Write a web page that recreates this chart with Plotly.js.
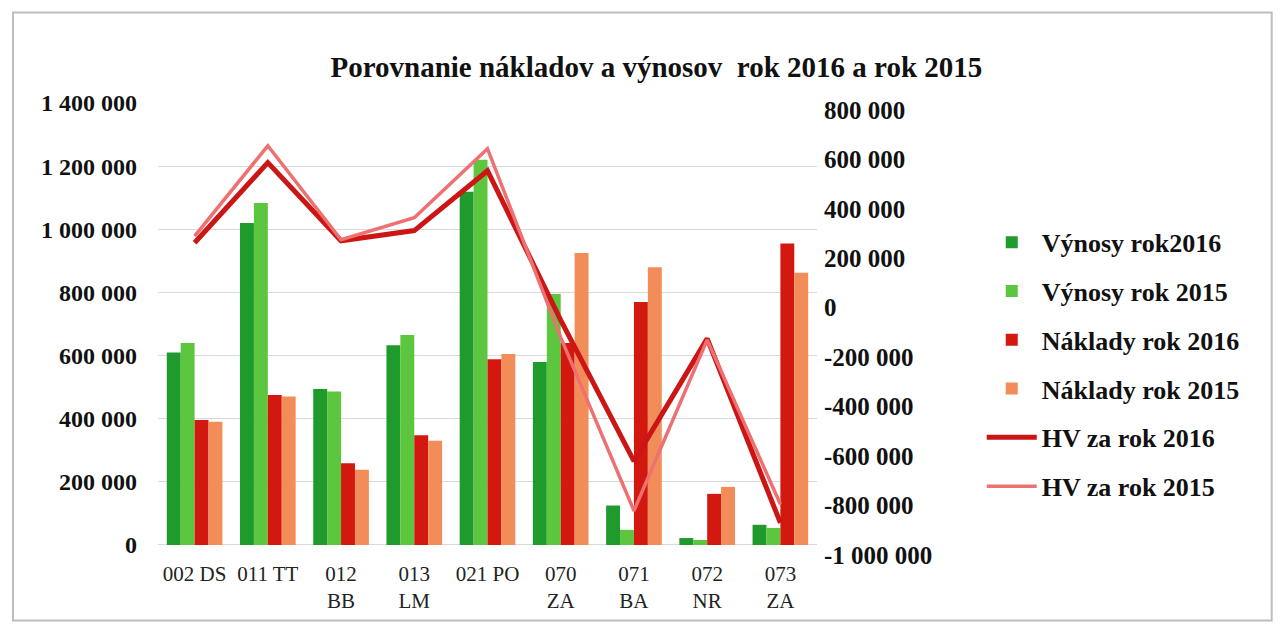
<!DOCTYPE html>
<html>
<head>
<meta charset="utf-8">
<script src="https://cdn.plot.ly/plotly-3.0.1.min.js"></script>
<style>html,body{margin:0;padding:0;background:#fff;}#chart{width:1287px;height:639px;}</style>
</head>
<body>
<div id="chart"></div>
<script>
var categories = ['002 DS', '011 TT', '012<br>BB', '013<br>LM', '021 PO', '070<br>ZA', '071<br>BA', '072<br>NR', '073<br>ZA'];
var vynosy2016 = [610000, 1020000, 494000, 633000, 1119000, 580000, 125000, 22000, 64000];
var vynosy2015 = [640000, 1083000, 486000, 665000, 1220000, 795000, 48000, 16000, 54000];
var naklady2016 = [396000, 475000, 259000, 348000, 588000, 640000, 770000, 162000, 955000];
var naklady2015 = [390000, 470000, 238000, 330000, 605000, 925000, 880000, 184000, 862000];
var hv2016 = [263000, 587000, 271000, 312000, 554000, -50000, -620000, -125000, -870000];
var hv2015 = [290000, 655000, 275000, 364000, 643000, -120000, -821000, -130000, -795000];
var leftTicks = [0, 200000, 400000, 600000, 800000, 1000000, 1200000, 1400000];
var leftLabels = ['0', '200 000', '400 000', '600 000', '800 000', '1 000 000', '1 200 000', '1 400 000'];
var rightTicks = [-1000000, -800000, -600000, -400000, -200000, 0, 200000, 400000, 600000, 800000];
var rightLabels = ['-1 000 000', '-800 000', '-600 000', '-400 000', '-200 000', '0', '200 000', '400 000', '600 000', '800 000'];
var names = ['Výnosy rok2016', 'Výnosy rok 2015', 'Náklady rok 2016', 'Náklady rok 2015', 'HV za rok 2016', 'HV za rok 2015'];

var serif = 'Liberation Serif, Times New Roman, serif';

var traces = [
  {type: 'bar', x: categories, y: vynosy2016, name: names[0], marker: {color: '#1f9a2c'}, legendgroup: 'a'},
  {type: 'bar', x: categories, y: vynosy2015, name: names[1], marker: {color: '#5dc63f'}, legendgroup: 'b'},
  {type: 'bar', x: categories, y: naklady2016, name: names[2], marker: {color: '#d3180f'}, legendgroup: 'c'},
  {type: 'bar', x: categories, y: naklady2015, name: names[3], marker: {color: '#f28c58'}, legendgroup: 'd'},
  {type: 'scatter', mode: 'lines', x: categories, y: hv2016, name: names[4], yaxis: 'y2', line: {color: '#cc1515', width: 5}, legendgroup: 'e'},
  {type: 'scatter', mode: 'lines', x: categories, y: hv2015, name: names[5], yaxis: 'y2', line: {color: '#ee7070', width: 3.5}, legendgroup: 'f'}
];

var layout = {
  width: 1287, height: 639,
  paper_bgcolor: '#ffffff', plot_bgcolor: '#ffffff',
  margin: {l: 158, r: 470, t: 103, b: 84},
  barmode: 'group', bargap: 0.24, bargroupgap: 0,
  title: {text: 'Porovnanie nákladov a výnosov  rok 2016 a rok 2015', x: 0.51, xref: 'container', y: 0.895, yref: 'container', yanchor: 'middle',
          font: {family: serif, size: 29, color: '#111', weight: 'bold'}},
  font: {family: serif, color: '#111'},
  xaxis: {type: 'category', showgrid: false, showline: false, zeroline: false, ticks: '', ticklabelstandoff: 4,
          tickfont: {family: serif, size: 21, color: '#222'}, tickangle: 0},
  yaxis: {range: [-31700, 1400000], tickvals: leftTicks, ticktext: leftLabels, showgrid: true, gridcolor: '#d9d9d9', gridwidth: 1,
          zeroline: false, showline: false, ticks: '', ticklabelstandoff: 20,
          tickfont: {family: serif, size: 24, color: '#111', weight: 'bold'}},
  yaxis2: {overlaying: 'y', side: 'right', range: [-1000000, 828000], tickvals: rightTicks, ticktext: rightLabels,
           showgrid: false, zeroline: false, showline: false, ticks: '', ticklabelstandoff: 6,
           tickfont: {family: serif, size: 25, color: '#111', weight: 'bold'}},
  showlegend: true,
  legend: {x: 1.25, xanchor: 'left', y: 0.422, yanchor: 'middle', traceorder: 'grouped', tracegroupgap: 12,
           font: {family: serif, size: 26, color: '#111', weight: 'bold'}, itemwidth: 50, bgcolor: 'rgba(0,0,0,0)'},
  shapes: [{type: 'rect', xref: 'paper', yref: 'paper', x0: -0.22, x1: 1.69, y0: -0.145, y1: 1.2, line: {color: '#bdbdbd', width: 2}}]
};

Plotly.newPlot('chart', traces, layout, {displayModeBar: false, staticPlot: true});
</script>
</body>
</html>
